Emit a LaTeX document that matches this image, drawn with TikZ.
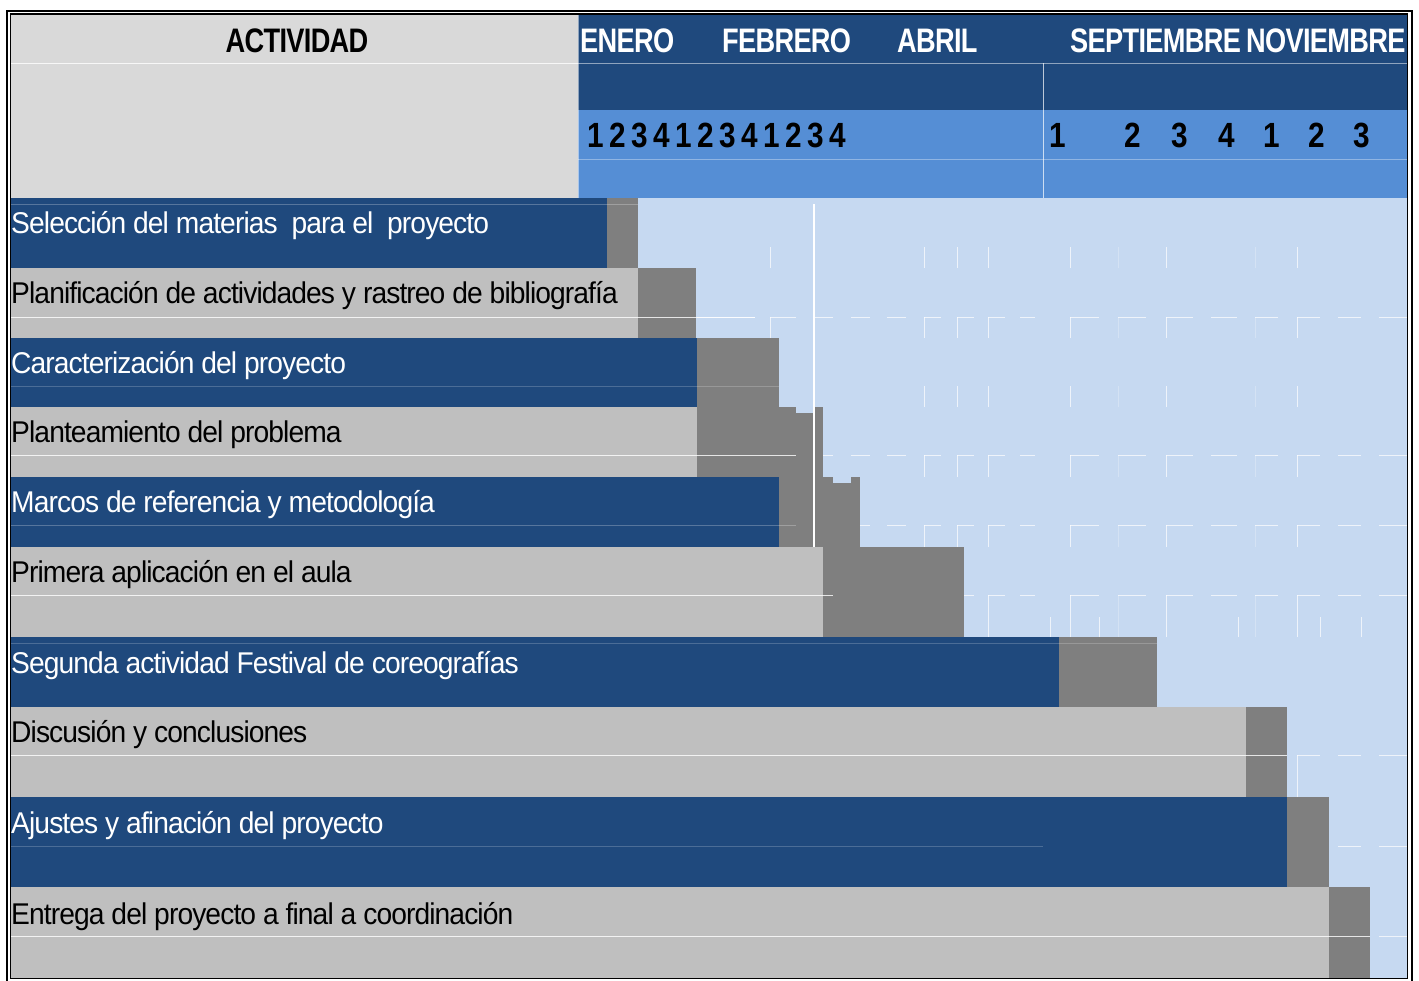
\documentclass[tikz,border=0pt]{standalone}
\usepackage{fontspec}
\setmainfont{Liberation Sans}
\newfontfamily\labfont[FakeStretch=0.94,LetterSpace=-3]{Liberation Sans}
\newfontfamily\hdrfont[FakeStretch=0.8,LetterSpace=-2]{Liberation Sans}
\newfontfamily\numfont[FakeStretch=0.85]{Liberation Sans}
\definecolor{dblue}{HTML}{1F497D}
\definecolor{lgray}{HTML}{BFBFBF}
\definecolor{hgray}{HTML}{D9D9D9}
\definecolor{mblue}{HTML}{558ED5}
\definecolor{lblue}{HTML}{C6D9F1}
\definecolor{bgray}{HTML}{7F7F7F}
\begin{document}
\begin{tikzpicture}[x=1pt,y=-1pt,
  gridw/.style={white,line width=1pt,opacity=0.7},
  midline/.style={white,line width=1pt,opacity=#1},
  labw/.style={anchor=base west,inner sep=0pt,text=white,font=\labfont\fontsize{30}{32}\selectfont},
  labk/.style={anchor=base west,inner sep=0pt,text=black,font=\labfont\fontsize{30}{32}\selectfont},
  month/.style={anchor=base west,inner sep=0pt,text=white,font=\hdrfont\bfseries\fontsize{34}{36}\selectfont},
  numtxt/.style={anchor=base,inner sep=0pt,text=black,font=\numfont\bfseries\fontsize{35}{37}\selectfont}]
\useasboundingbox (0,0) rectangle (1419,980);
\fill[white] (0,0) rectangle (1419,980);
% header
\fill[hgray] (11,14) rectangle (578,198);
\fill[dblue] (578,14) rectangle (1407,110);
\fill[mblue] (578,110) rectangle (1407,198);
\fill[lblue] (578,198) rectangle (1407,978);
\draw[midline=0.8] (11,63) -- (578,63);
\draw[midline=0.5] (578,63) -- (1407,63);
\draw[midline=0.35] (578,159) -- (1407,159);
\draw[midline=0.7] (1043,63) -- (1043,198);
\draw[midline=0.5] (578,14) -- (578,198);
% grid marks
\foreach \x/\w in {697/58,770/26,815/18,851/19,887/19,924/17,957/17,988/17,1020/15,1070/29,1118/28,1166/27,1211/26,1255/23,1297/23,1338/23,1379/28}
  \foreach \y in {317,455,525,595,755,846,936}
    \draw[gridw] (\x,\y) -- ++(\w,0);
\foreach \x in {770,924,957,988,1070,1166,1297}
  \foreach \y/\b in {247/268,317/338,386/407,455/477,525/547,595/637,755/797,846/887,936/978}
    \draw[gridw] (\x,\y) -- (\x,\b);
\foreach \x in {1050,1099,1238,1320,1361}
  \draw[gridw] (\x,617) -- (\x,637);
\foreach \x in {1118,1255}
  \foreach \y/\b in {247/268,317/338,386/407,455/477,525/547,595/637}
    \draw[gridw,opacity=0.25] (\x,\y) -- (\x,\b);
% bars
\foreach \t/\b/\le/\ge/\c in {198/268/607/638/dblue,268/338/638/696/lgray,338/407/697/779/dblue,407/477/697/823/lgray,477/547/779/860/dblue,547/637/823/964/lgray,637/707/1059/1157/dblue,707/797/1246/1287/lgray,797/887/1287/1329/dblue,887/979/1329/1370/lgray}{
  \fill[\c] (11,\t) rectangle (\le,\b);
  \fill[bgray] (\le,\t) rectangle (\ge,\b);
}
\fill[lblue] (796,407) rectangle (814,413);
\fill[lblue] (833,477) rectangle (851,483);
% mid lines inside rows
\draw[midline=0.25] (11,204) -- (638,204);
\draw[midline=0.8] (11,317) -- (755,317);
\draw[midline=0.2] (11,386) -- (779,386);
\draw[midline=0.8] (11,455) -- (796,455);
\draw[midline=0.25] (11,525) -- (796,525);
\draw[midline=0.8] (11,595) -- (833,595);
\draw[midline=0.2] (11,643) -- (1157,643);
\draw[midline=0.8] (11,755) -- (1287,755);
\draw[midline=0.2] (11,846) -- (1043,846);
\draw[midline=0.8] (11,936) -- (1370,936);
\draw[white,line width=1.2pt] (814,204) -- (814,547);
% frame
\draw[black,line width=2pt] (6.5,985) -- (6.5,11) -- (1411.5,11) -- (1411.5,985);
\draw[black,line width=1.5pt] (10.5,14) rectangle (1407.5,978.5);
% header texts
\node[anchor=base,inner sep=0pt,text=black,font=\hdrfont\bfseries\fontsize{34}{36}\selectfont] (act) at (297,52) {ACTIVIDAD};
\node[month] (ene) at (580,52) {ENERO};
\node[month] (feb) at (722,52) {FEBRERO};
\node[month] (abr) at (897,52) {ABRIL};
\node[month] (sep) at (1070,52) {SEPTIEMBRE};
\node[month] (nov) at (1246,52) {NOVIEMBRE};
% week numbers
\foreach \d [count=\i] in {1,2,3,4,1,2,3,4,1,2,3,4}
  \node[numtxt] (wa\i) at ({596+22*(\i-1)},147) {\d};
\foreach \xx/\d [count=\i] in {1058/1,1133/2,1180/3,1227/4,1272/1,1317/2,1362/3}
  \node[numtxt] (wb\i) at (\xx,147) {\d};
% labels
\node[labw] (l1) at (11,233) {Selección del materias\ \ para el\ \ proyecto};
\node[labk] (l2) at (11,303) {Planificación de actividades y rastreo de bibliografía};
\node[labw] (l3) at (11,373) {Caracterización del proyecto};
\node[labk] (l4) at (11,442) {Planteamiento del problema};
\node[labw] (l5) at (11,512) {Marcos de referencia y metodología};
\node[labk] (l6) at (11,582) {Primera aplicación en el aula};
\node[labw] (l7) at (11,673) {Segunda actividad Festival de coreografías};
\node[labk] (l8) at (11,742) {Discusión y conclusiones};
\node[labw] (l9) at (11,833) {Ajustes y afinación del proyecto};
\node[labk] (l10) at (11,924) {Entrega del proyecto a final a coordinación};
\end{tikzpicture}
\end{document}
